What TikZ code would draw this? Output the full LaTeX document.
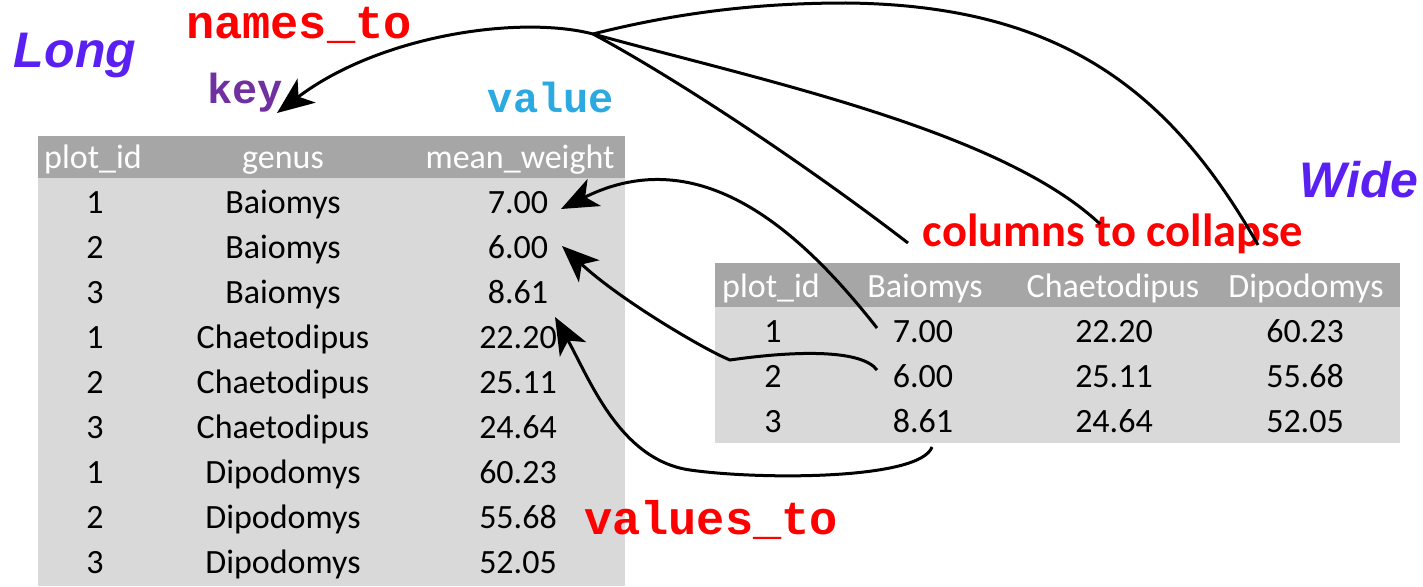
\documentclass[tikz,border=0pt]{standalone}
\usepackage{fontspec}
\setmainfont{Carlito}
\setsansfont{Liberation Sans}
\setmonofont{Liberation Mono}
\usetikzlibrary{arrows.meta}
\definecolor{hdr}{HTML}{A6A6A6}
\definecolor{bod}{HTML}{D9D9D9}
\definecolor{longc}{HTML}{5A1FF2}
\definecolor{keyc}{HTML}{7030A0}
\definecolor{valc}{HTML}{2CA9E1}
\definecolor{redc}{HTML}{FF0000}
\begin{document}
\begin{tikzpicture}[x=1pt,y=-1pt,
  cell/.style={font=\fontsize{34}{40}\selectfont, inner sep=0pt, anchor=base},
  hcell/.style={cell, text=white},
  bigsans/.style={font=\sffamily\bfseries\itshape\fontsize{50}{60}\selectfont, text=longc, inner sep=0pt, anchor=base},
  monolabel/.style={font=\ttfamily\bfseries\fontsize{47}{56}\selectfont, text=redc, inner sep=0pt, anchor=base},
  smallmono/.style={font=\ttfamily\bfseries\fontsize{42}{50}\selectfont, inner sep=0pt, anchor=base},
  conn/.style={line width=3pt, black},
  tip/.style={-{Stealth[length=37pt,width=30pt,inset=10pt]}}]
\useasboundingbox (0,0) rectangle (1423,586);
% tables
\fill[hdr] (38,136) rectangle (625,178);
\fill[bod] (38,178) rectangle (625,586);
\fill[hdr] (715,263) rectangle (1400,307);
\fill[bod] (715,307) rectangle (1400,443);
% left table header
\node[hcell] (lh1) at (93,168) {plot\_id};
\node[hcell] (lh2) at (283,168) {genus};
\node[hcell] (lh3) at (520,168) {mean\_weight};
\foreach \p/\g/\v [count=\n] in {1/Baiomys/7.00,2/Baiomys/6.00,3/Baiomys/8.61,1/Chaetodipus/22.20,2/Chaetodipus/25.11,3/Chaetodipus/24.64,1/Dipodomys/60.23,2/Dipodomys/55.68,3/Dipodomys/52.05}{
  \pgfmathsetmacro\yy{168+45*\n}
  \node[cell] (lp\n) at (95,\yy) {\p};
  \node[cell] (lg\n) at (283,\yy) {\g};
  \node[cell] (lv\n) at (518,\yy) {\v};
}
% right table header
\node[hcell] (rh1) at (771,297) {plot\_id};
\node[hcell] (rh2) at (925,297) {Baiomys};
\node[hcell] (rh3) at (1113,297) {Chaetodipus};
\node[hcell] (rh4) at (1306,297) {Dipodomys};
\foreach \p/\a/\b/\c [count=\n] in {1/7.00/22.20/60.23,2/6.00/25.11/55.68,3/8.61/24.64/52.05}{
  \pgfmathsetmacro\yy{297+45*\n}
  \node[cell] (rp\n) at (773,\yy) {\p};
  \node[cell] (ra\n) at (923,\yy) {\a};
  \node[cell] (rb\n) at (1114,\yy) {\b};
  \node[cell] (rc\n) at (1305,\yy) {\c};
}
% labels
\node[bigsans] (long) at (75,67) {Long};
\node[bigsans] (wide) at (1359,197) {Wide};
\node[monolabel] (namesto) at (299,38) {names\_to};
\node[monolabel] (valuesto) at (711,534) {values\_to};
\node[smallmono, text=keyc] (key) at (245,103) {key};
\node[smallmono, text=valc] (value) at (551,112) {value};
\node[font=\bfseries\fontsize{46.5}{56}\selectfont, text=redc, inner sep=0pt, anchor=base] (collapse) at (1113,246) {columns to collapse};
% connector coordinates
\coordinate (hub) at (593,34);
\coordinate (keytip) at (277,113);
\coordinate (dipend) at (1258,245);
\coordinate (toend) at (1100,224);
\coordinate (colend) at (908,243);
\coordinate (r7) at (877,328);
\coordinate (r6) at (877,370);
\coordinate (r8) at (932,447);
\coordinate (l7tip) at (561,209);
\coordinate (l6tip) at (562,246);
\coordinate (l8tip) at (555,317);
% connectors
\draw[conn,tip] (hub) .. controls (520,15) and (380,35) .. (keytip);
\draw[conn] (hub) .. controls (680,12) and (760,3) .. (846,3) .. controls (1060,5) and (1170,90) .. (dipend);
\draw[conn] (hub) .. controls (760,80) and (1000,130) .. (toend);
\draw[conn] (hub) .. controls (670,75) and (800,160) .. (colend);
\draw[conn,tip] (r7) .. controls (800,230) and (700,140) .. (l7tip);
\draw[conn,tip] (r6) .. controls (862,350) and (800,350) .. (730,360) .. controls (705,350) and (620,300) .. (l6tip);
\draw[conn,tip] (r8) .. controls (920,480) and (760,480) .. (690,470) .. controls (620,460) and (590,380) .. (l8tip);
\end{tikzpicture}
\end{document}
